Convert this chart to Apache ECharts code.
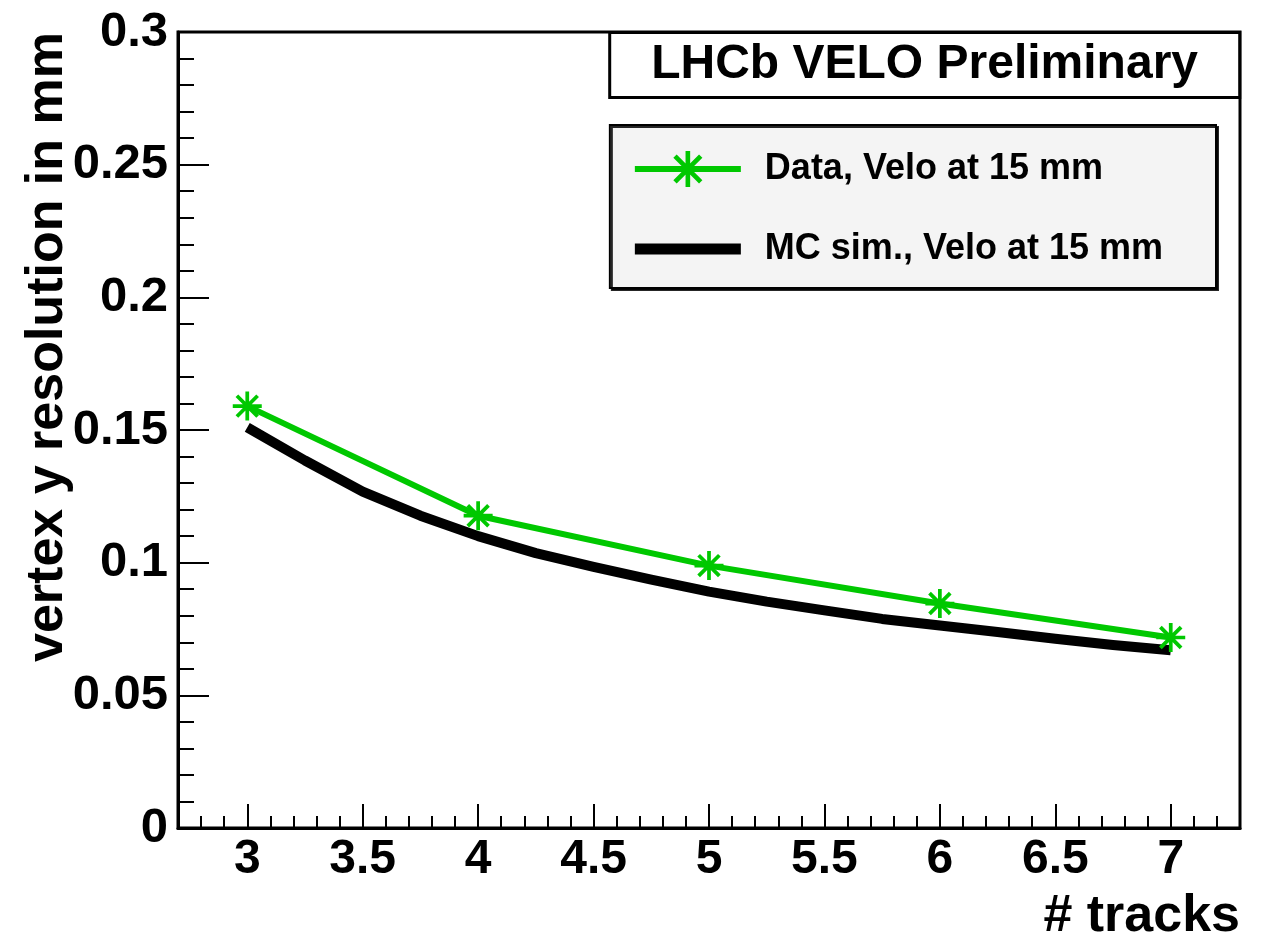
<!DOCTYPE html>
<html>
<head>
<meta charset="utf-8">
<script src="https://cdn.jsdelivr.net/npm/echarts@6/dist/echarts.min.js"></script>
<style>
  html, body { margin: 0; padding: 0; background: #fff; }
  #chart { width: 1271px; height: 943px; }
</style>
</head>
<body>
<div id="chart"></div>
<script>
// ---- data ----
const dataX = [3, 4, 5, 6, 7];
const dataY = [0.159, 0.1177, 0.0989, 0.0846, 0.0718];

const mcX = [3.0, 3.25, 3.5, 3.75, 4.0, 4.25, 4.5, 4.75, 5.0, 5.25, 5.5, 5.75, 6.0, 6.25, 6.5, 6.75, 7.0];
const mcY = [0.151, 0.1385, 0.1268, 0.1177, 0.1100, 0.1036, 0.0984, 0.0936, 0.0891, 0.0853, 0.0820, 0.0788, 0.0763, 0.0739, 0.0713, 0.0690, 0.0670];

const xTickValues = [3, 3.5, 4, 4.5, 5, 5.5, 6, 6.5, 7];
const yTickValues = [0, 0.05, 0.1, 0.15, 0.2, 0.25, 0.3];

const seriesNames = ['Data, Velo at 15 mm', 'MC sim., Velo at 15 mm'];
const titleText = 'LHCb VELO Preliminary';
const xTitle = '# tracks';
const yTitle = 'vertex y resolution in mm';

// ---- styling ----
const FONT = 'Liberation Sans';
const GREEN = '#00c800';
const asterisk = 'path://' +
  'M-1.8,-14 L1.8,-14 L1.8,14 L-1.8,14 Z ' +
  'M-14,-1.8 L14,-1.8 L14,1.8 L-14,1.8 Z ' +
  'M-8.7,-11.3 L11.3,8.7 L8.7,11.3 L-11.3,-8.7 Z ' +
  'M-11.3,8.7 L8.7,-11.3 L11.3,-8.7 L-8.7,11.3 Z';
const thickLineIcon = 'path://M0,0 L106,0 L106,11 L0,11 Z';

const chart = echarts.init(document.getElementById('chart'), null, { renderer: 'canvas' });

const option = {
  animation: false,
  backgroundColor: '#ffffff',
  textStyle: { fontFamily: FONT },
  title: {
    text: titleText,
    right: 31,
    top: 32,
    backgroundColor: '#ffffff',
    borderColor: '#000',
    borderWidth: 3,
    padding: [9, 42, 9, 42],
    textStyle: { fontFamily: FONT, fontWeight: 'bold', fontSize: 48, color: '#000', lineHeight: 48 }
  },
  legend: {
    orient: 'vertical',
    right: 55,
    top: 125,
    padding: [26, 53, 21, 22],
    itemGap: 44,
    itemWidth: 106,
    itemHeight: 45,
    backgroundColor: '#f4f4f4',
    borderColor: '#000',
    borderWidth: 2,
    shadowColor: 'rgba(0,0,0,0.85)',
    shadowBlur: 0,
    shadowOffsetX: 2,
    shadowOffsetY: 2,
    selectedMode: false,
    data: [
      { name: seriesNames[0], lineStyle: { color: GREEN, width: 6 }, itemStyle: { color: GREEN } },
      { name: seriesNames[1], icon: thickLineIcon, itemStyle: { color: '#000' } }
    ],
    textStyle: { fontFamily: FONT, fontWeight: 'bold', fontSize: 36, color: '#000', padding: [0, 0, 0, 19] }
  },
  grid: {
    left: 178, right: 31, top: 32, bottom: 113,
    show: true, borderColor: '#000', borderWidth: 3, backgroundColor: 'transparent'
  },
  xAxis: [
    {
      type: 'value', min: 2.7, max: 7.3, position: 'bottom',
      name: xTitle, nameLocation: 'end', nameGap: 0, nameMoveOverlap: false,
      nameTextStyle: { fontFamily: FONT, fontWeight: 'bold', fontSize: 52, color: '#000',
                       align: 'right', verticalAlign: 'top', padding: [63, 0, 0, 0] },
      axisLine: { show: true, lineStyle: { color: '#000', width: 3 } },
      axisTick: { show: true, inside: true, length: 24, customValues: xTickValues, lineStyle: { color: '#000', width: 2 } },
      axisLabel: { show: true, customValues: xTickValues, margin: 8, fontFamily: FONT, fontWeight: 'bold', fontSize: 48, color: '#000' },
      splitLine: { show: false }
    },
    {
      type: 'value', min: 2.7, max: 7.3, interval: 0.1, position: 'bottom',
      axisLine: { show: false },
      axisTick: { show: true, inside: true, length: 12, lineStyle: { color: '#000', width: 2 } },
      axisLabel: { show: false },
      splitLine: { show: false }
    }
  ],
  yAxis: {
    type: 'value', min: 0, max: 0.3, interval: 0.05,
    name: yTitle, nameLocation: 'end', nameGap: 0, nameRotate: 90, nameMoveOverlap: false,
    nameTextStyle: { fontFamily: FONT, fontWeight: 'bold', fontSize: 52, color: '#000',
                     align: 'right', verticalAlign: 'bottom', padding: [0, 0, 104, 0] },
    axisLine: { show: true, lineStyle: { color: '#000', width: 3 } },
    axisTick: { show: true, inside: true, length: 31, lineStyle: { color: '#000', width: 2 } },
    minorTick: { show: true, splitNumber: 5, length: 16, lineStyle: { color: '#000', width: 2 } },
    axisLabel: { show: true, customValues: yTickValues, margin: 10, fontFamily: FONT, fontWeight: 'bold', fontSize: 49, color: '#000' },
    splitLine: { show: false },
    minorSplitLine: { show: false }
  },
  series: [
    {
      name: seriesNames[1],
      type: 'line',
      xAxisIndex: 0,
      data: mcX.map((x, i) => [x, mcY[i]]),
      symbol: 'none',
      showSymbol: false,
      itemStyle: { color: '#000' },
      lineStyle: { color: '#000', width: 10, cap: 'butt', join: 'round' },
      z: 2
    },
    {
      name: seriesNames[0],
      type: 'line',
      xAxisIndex: 0,
      data: dataX.map((x, i) => [x, dataY[i]]),
      symbol: asterisk,
      symbolSize: 29,
      showSymbol: true,
      itemStyle: { color: GREEN },
      lineStyle: { color: GREEN, width: 6 },
      z: 3
    }
  ]
};
chart.setOption(option);
</script>
</body>
</html>
